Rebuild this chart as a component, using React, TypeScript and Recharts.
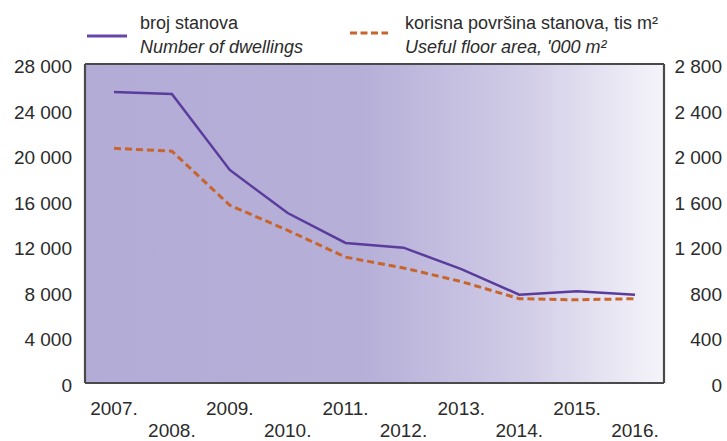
import React from 'react';
import { LineChart, Line, XAxis, YAxis, CartesianGrid } from 'recharts';

const years = ['2007.', '2008.', '2009.', '2010.', '2011.', '2012.', '2013.', '2014.', '2015.', '2016.'];
const dwellings = [25540, 25370, 18700, 14920, 12290, 11880, 10000, 7750, 8050, 7750];
const floorArea = [2060, 2035, 1560, 1340, 1105, 1010, 890, 740, 730, 740];
const leftTicks = [0, 4000, 8000, 12000, 16000, 20000, 24000, 28000];
const rightTicks = [0, 400, 800, 1200, 1600, 2000, 2400, 2800];

const data = years.map((year, i) => ({ year, dwellings: dwellings[i], area: floorArea[i] }));

const FONT = "'Liberation Sans', Arial, sans-serif";
const TEXT = '#2b2b2b';
const PURPLE = '#5a3c9c';
const ORANGE = '#c7652c';

const fmt = (v: number) =>
  v >= 1000 ? `${Math.floor(v / 1000)} ${String(v % 1000).padStart(3, '0')}` : String(v);

const XTick = (props: any) => {
  const { x, y, payload } = props;
  const idx = years.indexOf(payload.value);
  const row = idx % 2;
  return (
    <text x={x} y={y + (row ? 54 : 32)} textAnchor="middle" fill={TEXT} fontSize={19} fontFamily={FONT}>
      {payload.value}
    </text>
  );
};

const LeftTick = (props: any) => {
  const { x, y, payload } = props;
  return (
    <text x={x} y={y + 9} textAnchor="end" fill={TEXT} fontSize={19} fontFamily={FONT}>
      {fmt(payload.value)}
    </text>
  );
};

const RightTick = (props: any) => {
  const { x, y, payload } = props;
  return (
    <text x={x + 58} y={y + 9} textAnchor="end" fill={TEXT} fontSize={19} fontFamily={FONT}>
      {fmt(payload.value)}
    </text>
  );
};

export default function App() {
  return (
    <div style={{ position: 'absolute', left: 0, top: 0, width: 727, height: 441, background: '#fff' }}>
      <LineChart
        width={727}
        height={441}
        data={data}
        margin={{ top: 64, right: 0, bottom: 0, left: 0 }}
      >
        <defs>
          <linearGradient id="bgGrad" x1="0" y1="0" x2="1" y2="0">
            <stop offset="0%" stopColor="#b3acd6" />
            <stop offset="48%" stopColor="#b6afd8" />
            <stop offset="75%" stopColor="#d0cbe6" />
            <stop offset="100%" stopColor="#f5f4fa" />
          </linearGradient>
        </defs>
        <CartesianGrid
          fill="url(#bgGrad)"
          fillOpacity={1}
          stroke="#4a4a4a"
          strokeWidth={2.2}
          verticalCoordinatesGenerator={({ offset }: any) => [offset.left, offset.left + offset.width]}
        />
        <XAxis
          dataKey="year"
          interval={0}
          height={58}
          padding={{ left: 29, right: 29 }}
          tickLine={false}
          axisLine={false}
          tickSize={0}
          tickMargin={0}
          tick={<XTick />}
        />
        <YAxis
          yAxisId="left"
          orientation="left"
          width={85}
          domain={[0, 28000]}
          ticks={leftTicks}
          interval={0}
          tickLine={false}
          axisLine={false}
          tickSize={0}
          tickMargin={13}
          tick={<LeftTick />}
        />
        <YAxis
          yAxisId="right"
          orientation="right"
          width={63}
          domain={[0, 2800]}
          ticks={rightTicks}
          interval={0}
          tickLine={false}
          axisLine={false}
          tickSize={0}
          tickMargin={0}
          tick={<RightTick />}
        />
        <Line
          yAxisId="right"
          type="linear"
          dataKey="area"
          stroke={ORANGE}
          strokeWidth={3}
          strokeDasharray="7 4"
          dot={false}
          activeDot={false}
          isAnimationActive={false}
        />
        <Line
          yAxisId="left"
          type="linear"
          dataKey="dwellings"
          stroke={PURPLE}
          strokeWidth={2.5}
          dot={false}
          activeDot={false}
          isAnimationActive={false}
        />
      </LineChart>
      <svg
        width={727}
        height={60}
        style={{ position: 'absolute', left: 0, top: 0, pointerEvents: 'none' }}
      >
        <line x1={87} y1={36} x2={127} y2={36} stroke="#6447a8" strokeWidth={3} />
        <text x={140} y={29} fill={TEXT} fontSize={18} fontFamily={FONT}>broj stanova</text>
        <text x={140} y={53} fill={TEXT} fontSize={18} fontFamily={FONT} fontStyle="italic">Number of dwellings</text>
        <line x1={350} y1={33} x2={388} y2={33} stroke={ORANGE} strokeWidth={3} strokeDasharray="7 3.5" />
        <text x={405} y={29} fill={TEXT} fontSize={18} fontFamily={FONT}>korisna površina stanova, tis m²</text>
        <text x={405} y={53} fill={TEXT} fontSize={18} fontFamily={FONT} fontStyle="italic">Useful floor area, '000 m²</text>
      </svg>
    </div>
  );
}
